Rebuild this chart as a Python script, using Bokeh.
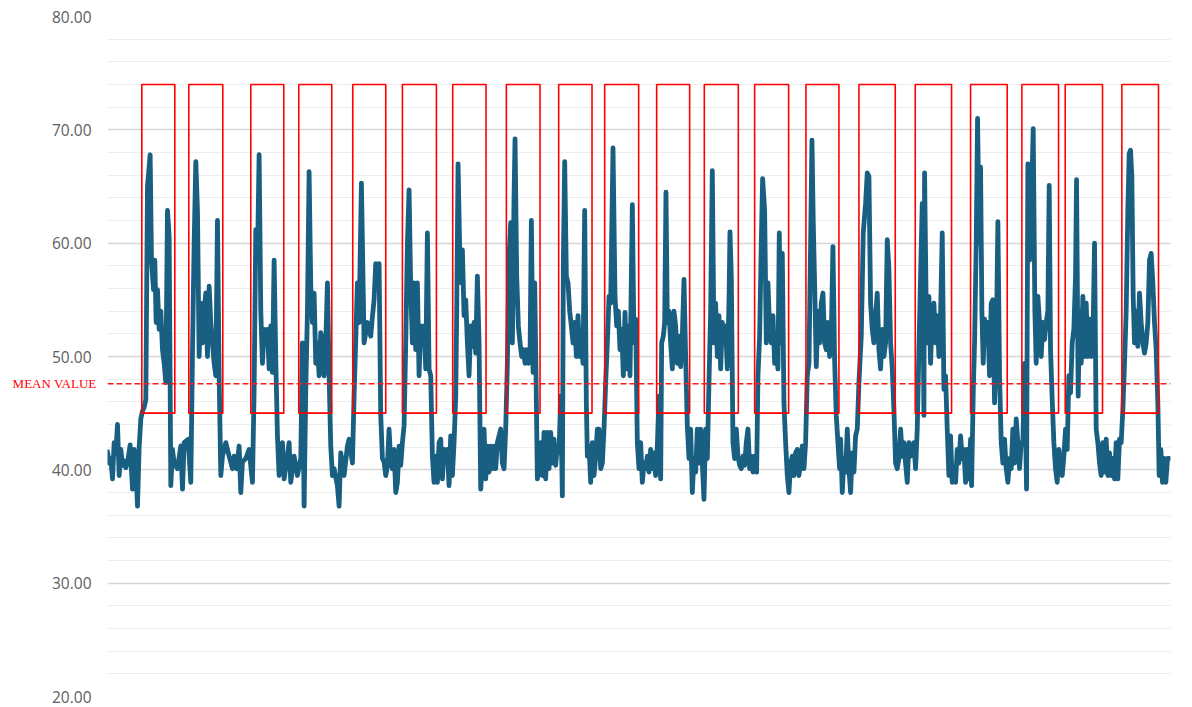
from bokeh.plotting import figure
from bokeh.models import (Range1d, Span, PrintfTickFormatter, FixedTicker,
                          LinearAxis, BoxAnnotation)
from bokeh.embed import file_html
from bokeh.resources import INLINE

# ---- series (sample time, value) ----
seg1_t = [0,5,10,15,20,25,30,35,40,45,50,55,60,68,75,80,85,90,95,100,105,110,115,120,128,132,138,142,146,150,155,160,165,170,175,180,185,190,195,200,210,220,225,230,242,250,255,260,265,270,275,280,285,290,295,300,305,310,320,325,330,335,340,345,355,365,375,380,388,395,400,405,415,425,435,440,445,450,455,460,465,470,475,480,485,490,495,500,505,510,515,520,525,530,540,545,550,560,570,580,585,590,595,600,605,610,615,620,625,630,635,640,645,650,655,660,665,670,675,680,690,695,700,710,720,725,735,740,750,755,762,770,780]
seg1_v = [41.6,40.6,41.0,39.2,42.4,41.5,44.0,39.5,41.8,40.4,40.8,40.2,40.6,42.2,38.3,41.8,40.5,36.8,42.0,44.5,45.2,45.5,46.2,65.0,67.8,58.5,55.9,58.5,53.0,55.9,52.4,54.0,50.6,49.4,47.7,62.9,60.6,38.6,41.8,40.6,40.1,42.1,38.3,42.4,42.7,38.9,50.3,60.0,67.2,62.9,50.0,54.7,51.2,54.0,55.6,50.0,56.2,53.0,49.4,48.3,62.0,48.3,39.5,41.2,42.4,41.2,40.1,41.2,40.1,42.1,38.0,40.7,41.0,41.8,38.9,47.1,61.2,58.5,67.8,54.0,49.4,52.4,51.2,52.4,48.9,52.7,48.6,58.5,49.7,43.0,39.5,41.0,42.4,39.2,41.2,42.4,38.9,41.2,39.5,41.0,51.2,36.8,47.1,54.0,66.3,56.2,53.0,55.6,49.4,51.2,48.3,52.1,51.2,48.3,51.2,56.5,48.3,42.1,39.5,40.1,38.6,36.8,41.5,39.5,42.1,42.7,40.6,46.5,56.5,53.0,65.3,51.2,53.0]

seg2_t = [790,795,800,805,810,815,820,825,830,835,840,845,850,855,860,865,870,875,880,885,890,895,900,905,910,915,920,925,930,935,940,945,950,955,960,965,970,975,980,985,990,995,1000,1005,1010,1015,1020,1025,1030,1035,1040,1045,1048,1052,1057,1062,1065,1070,1075,1080,1085,1090,1095,1100,1105,1110,1115,1120,1125,1130,1135,1140,1145,1150,1155,1160,1165,1170,1180,1185,1190,1195,1200,1205,1210,1215,1220,1223,1228,1233,1238,1243,1248,1253,1258,1263,1268,1272,1277,1282,1286,1290,1295,1300,1305,1310,1315,1320,1325,1330,1335,1340,1345,1350,1355,1360,1365,1368,1372,1377,1382,1387,1392,1397,1402,1407,1412,1417,1422,1427,1432,1437,1440,1445,1450,1455,1460,1465,1470,1475,1480,1485,1490,1495,1500,1505,1510,1517,1523,1528,1533,1538,1543,1548,1553,1558,1563,1568,1575,1580,1585,1590,1595]
seg2_v = [51.8,53.5,55.0,58.2,57.5,58.2,44.8,41.0,40.7,39.5,40.4,43.6,40.6,40.1,41.8,38.0,38.9,42.1,40.4,42.4,43.9,51.2,60.0,64.7,55.9,51.2,56.5,50.6,56.5,48.3,52.7,51.2,52.7,48.9,60.9,48.9,48.3,41.2,38.9,41.2,38.9,42.4,42.7,39.2,41.8,41.0,41.8,38.6,43.0,39.5,42.4,46.5,54.0,67.0,59.4,56.5,59.4,53.6,55.0,51.2,48.3,52.7,50.9,53.0,50.3,57.1,51.2,38.3,40.6,43.6,39.2,42.1,39.8,42.1,40.1,42.1,40.1,42.4,43.6,40.6,40.1,43.6,49.4,58.8,61.8,51.2,64.1,69.2,57.1,52.7,51.2,50.0,50.6,49.4,50.6,49.4,50.0,62.0,48.6,56.5,48.3,39.2,40.1,42.4,39.5,43.3,39.2,43.3,40.1,43.3,40.6,42.7,40.4,42.1,41.5,46.5,37.7,58.5,67.2,57.1,56.5,54.0,52.7,51.2,53.0,50.0,53.6,50.0,51.8,49.4,62.9,45.9,41.2,42.1,38.9,42.4,39.5,41.2,43.6,43.6,40.1,40.6,43.6,47.7,51.2,55.3,54.7,68.4,55.3,52.7,54.0,50.6,52.4,48.3,53.9,48.9,52.7,48.3,63.4,51.2,53.3,42.4,40.1]

seg3_t = [1600,1605,1610,1615,1620,1625,1630,1635,1640,1645,1650,1655,1660,1663,1668,1672,1676,1680,1685,1690,1695,1700,1705,1710,1715,1720,1725,1730,1735,1740,1745,1750,1755,1760,1765,1770,1775,1780,1785,1790,1795,1800,1805,1810,1815,1820,1825,1830,1835,1840,1845,1850,1855,1860,1865,1868,1872,1877,1882,1887,1892,1897,1902,1907,1912,1917,1922,1927,1932,1937,1942,1948,1952,1957,1962,1966,1972,1977,1982,1987,1992,1997,2002,2007,2012,2016,2020,2025,2030,2035,2040,2045,2050,2055,2060,2065,2070,2075,2080,2085,2090,2095,2100,2105,2110,2114,2118,2122,2127,2132,2137,2142,2147,2152,2157,2162,2167,2172,2177,2182,2187,2192,2197,2200,2205,2210,2215,2220,2225,2230,2235,2240,2245,2250,2255,2262,2268,2275,2280,2285,2290,2295,2300,2305,2310,2315,2320,2325,2330,2335,2340,2345,2350,2355,2360,2365,2370,2375,2380,2385,2390,2395,2400,2405]
seg3_v = [42.4,38.9,40.6,40.1,41.2,39.8,41.8,40.1,41.5,39.5,42.1,46.5,39.2,51.2,51.8,53.0,64.5,53.0,54.0,51.2,48.9,54.0,52.7,49.4,51.8,49.1,51.8,56.8,50.0,43.9,41.0,43.6,38.0,41.0,39.8,43.6,40.6,43.6,40.6,37.4,43.6,41.0,47.7,54.0,66.4,51.2,54.7,50.0,53.6,48.9,53.0,51.2,52.7,48.9,54.7,61.0,57.1,42.4,41.0,43.6,41.2,40.4,40.1,41.2,40.4,42.4,43.6,40.1,41.2,39.8,41.2,39.8,48.3,51.8,60.0,65.7,62.9,51.2,56.5,52.4,51.2,53.6,49.4,50.6,48.9,60.9,51.2,59.1,45.9,42.4,39.5,38.0,40.6,41.2,39.5,41.5,41.8,39.5,40.6,42.1,40.1,42.4,48.3,49.4,60.0,69.1,61.8,56.5,49.1,54.0,51.2,54.7,55.6,51.2,50.6,53.0,50.0,51.8,59.7,49.7,44.8,42.4,40.1,42.7,38.0,41.0,39.8,43.6,40.1,38.0,41.5,39.8,43.0,43.6,47.7,51.8,60.9,63.5,66.2,65.9,54.7,52.4,51.2,53.6,55.6,50.6,48.9,52.4,50.0,51.2,60.3,57.7,51.2,48.9,45.3,40.6,40.1,41.0,43.6,41.2,42.4,40.6,38.9,42.4]

seg4_t = [2410,2415,2420,2425,2430,2435,2440,2445,2448,2450,2452,2457,2460,2465,2470,2475,2480,2485,2490,2495,2500,2505,2510,2515,2520,2525,2530,2535,2540,2545,2550,2555,2560,2565,2570,2575,2580,2585,2590,2593,2598,2602,2607,2611,2616,2620,2624,2628,2632,2637,2642,2647,2652,2657,2662,2667,2672,2677,2682,2687,2692,2697,2702,2707,2712,2717,2722,2727,2732,2737,2742,2747,2752,2758,2762,2767,2772,2778,2783,2787,2792,2797,2802,2807,2812,2817,2822,2826,2830,2835,2840,2845,2850,2855,2860,2865,2870,2875,2880,2885,2890,2895,2900,2905,2908,2913,2917,2922,2927,2932,2937,2942,2947,2952,2957,2962,2967,2972,2977,2982,2987,2992,2997,3002,3007,3012,3017,3022,3027,3032,3037,3042,3047,3052,3057,3062,3066,3070,3074,3078,3082,3087,3092,3097,3102,3107,3112,3117,3122,3127,3132,3137,3142,3147,3152,3156,3161,3166,3171,3176,3181,3186]
seg4_v = [41.2,41.8,42.4,40.1,43.6,50.6,57.1,63.5,53.0,44.8,66.2,54.0,51.2,55.3,49.4,53.6,54.7,51.2,53.6,50.0,53.6,60.9,47.1,48.3,43.6,39.5,43.0,38.9,39.2,38.9,41.8,40.6,43.0,41.0,41.8,38.9,41.8,39.2,42.7,38.6,46.8,51.2,60.0,71.0,60.0,66.7,54.0,49.4,53.3,51.2,53.0,48.3,54.7,55.0,45.9,50.6,61.9,48.3,42.4,40.6,42.7,40.1,38.9,41.0,40.1,43.6,40.6,44.5,42.4,40.1,42.4,42.4,49.4,38.3,67.0,58.5,62.9,70.1,54.0,49.4,55.3,53.0,50.0,53.0,51.5,53.0,54.0,65.1,50.6,46.2,42.4,40.1,38.9,41.8,40.4,39.5,41.2,43.6,41.8,48.3,46.8,51.2,52.4,57.1,65.6,46.5,54.0,49.4,55.3,50.0,54.7,50.0,53.3,50.0,51.2,60.0,43.6,42.4,40.6,39.5,42.4,39.8,42.7,39.5,41.5,39.5,41.0,39.2,42.4,39.2,42.7,42.4,45.3,49.4,54.0,62.9,67.9,68.2,65.9,55.3,51.2,54.0,50.9,55.6,53.0,51.2,50.3,51.2,53.0,58.5,59.1,56.5,53.0,50.6,45.9,39.5,41.8,38.9,41.0,38.9,41.0,41.0]

# ---- highlighted windows and mean ----
box_start = [103,244,430,574,736,885,1036,1197,1354,1492,1648,1791,1942,2096,2255,2424,2590,2744,2874,3044]
box_end = [202,346,529,673,835,987,1136,1298,1454,1594,1747,1893,2044,2195,2364,2533,2700,2854,2986,3154]
box_low = 45.0
box_high = 74.0
mean_value = 47.6
mean_label = "MEAN VALUE"

y_ticks = [20, 30, 40, 50, 60, 70, 80]
t_end = 3190

for i, (a, b) in enumerate([(seg1_t, seg1_v), (seg2_t, seg2_v), (seg3_t, seg3_v), (seg4_t, seg4_v)]):
    assert len(a) == len(b), (i, len(a), len(b))

t = seg1_t + seg2_t + seg3_t + seg4_t
v = seg1_v + seg2_v + seg3_v + seg4_v

p = figure(width=1192, height=707, output_backend="svg", toolbar_location=None,
           x_range=Range1d(0, t_end), y_range=Range1d(20, 80),
           min_border_left=107, min_border_right=22, min_border_top=16, min_border_bottom=11)
p.outline_line_color = None
p.background_fill_color = "white"
p.border_fill_color = "white"

p.xaxis.visible = False
p.xgrid.visible = False

yaxis = p.yaxis[0]
yaxis.ticker = FixedTicker(ticks=y_ticks, minor_ticks=list(range(20, 81, 2)))
yaxis.formatter = PrintfTickFormatter(format="%.2f")
yaxis.axis_line_color = None
yaxis.major_tick_line_color = None
yaxis.minor_tick_line_color = None
yaxis.major_tick_out = 0
yaxis.major_tick_in = 0
yaxis.major_label_standoff = 12
yaxis.major_label_text_font = "Open Sans"
yaxis.major_label_text_font_size = "15.5px"
yaxis.major_label_text_color = "#606060"

p.ygrid.grid_line_color = "#d6d6d6"
p.ygrid.grid_line_width = 1.5
p.ygrid.minor_grid_line_color = "#ededed"
p.ygrid.minor_grid_line_width = 1.2

# mean label drawn by a second (outer) left axis with a single tick at the mean
mean_axis = LinearAxis(ticker=FixedTicker(ticks=[mean_value], minor_ticks=[]),
                       major_label_overrides={mean_value: mean_label},
                       axis_line_color=None, major_tick_line_color=None,
                       minor_tick_line_color=None, major_tick_out=0, major_tick_in=0,
                       major_label_standoff=-48,
                       major_label_text_font="Liberation Serif",
                       major_label_text_font_size="13px",
                       major_label_text_color="#ff0000")
p.add_layout(mean_axis, "left")

for b0, b1 in zip(box_start, box_end):
    p.add_layout(BoxAnnotation(left=b0, right=b1, bottom=box_low, top=box_high,
                               fill_alpha=0, line_color="#ff0000", line_alpha=1.0,
                               line_width=1.6, level="glyph"))

p.line(t, v, line_color="#185f82", line_width=4.8, line_join="round", line_cap="round")

p.add_layout(Span(location=mean_value, dimension="width", line_color="#ff1a1a",
                  line_dash="6 3", line_width=1.5))

open("out.html", "w").write(file_html(p, INLINE))
